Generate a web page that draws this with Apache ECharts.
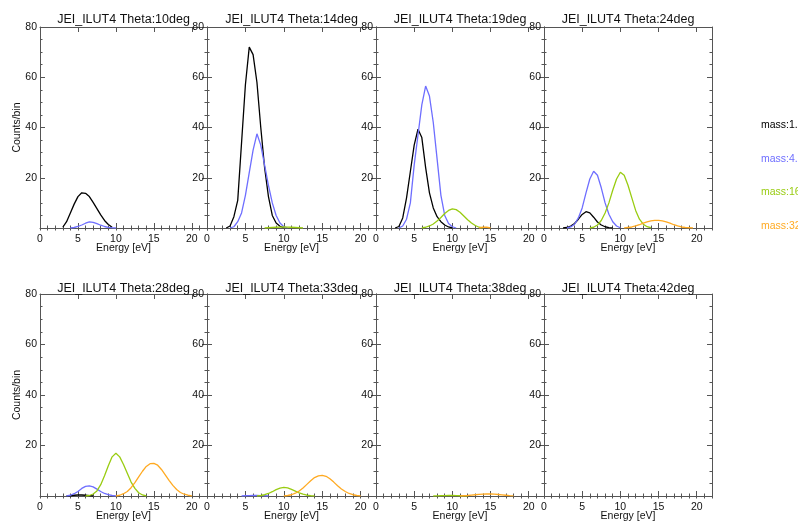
<!DOCTYPE html>
<html><head><meta charset="utf-8">
<script src="https://cdn.jsdelivr.net/npm/echarts@6/dist/echarts.min.js"></script>
<style>html,body{margin:0;padding:0;background:#fff}#c{width:798px;height:523px}</style>
</head><body><div id="c"></div><script>
// ---- labels ----
const thetaLabels = ['10', '14', '19', '24', '28', '33', '38', '42'];
const massNames = ['mass:1.0', 'mass:4.0', 'mass:16.0', 'mass:32.0'];
const xTickLabels = [0, 5, 10, 15, 20];
const yTickLabels = [20, 40, 60, 80];

// ---- data: [energy eV, counts/bin] ----
const m1_t10 = [[3,0.3],[3.5,2.5],[4,6],[4.5,9.5],[5,12.5],[5.5,14],[6,13.8],[6.5,12.5],[7,10.2],[7.5,7.7],[8,5.2],[8.5,3],[9,1.4],[9.5,0.3]];
const m4_t10 = [[4,0],[4.5,0.2],[5,0.6],[5.5,1.2],[6,1.9],[6.5,2.4],[7,2.2],[7.5,1.7],[8,1.1],[8.5,0.6],[9,0.25],[9.5,0.08],[10,0]];
const m16_t10 = [];
const m32_t10 = [];

const m1_t14 = [[2.5,0],[3,0.8],[3.5,4.5],[4,11],[4.5,34],[5,57],[5.5,72],[6,69],[6.5,58],[7,40],[7.5,24],[8,12.5],[8.5,5],[9,2],[9.5,0.7],[10,0.1]];
const m4_t14 = [[3,0],[3.5,0.5],[4,2.5],[4.5,6],[5,13],[5.5,22],[6,31],[6.5,37.5],[7,33],[7.5,25],[8,17],[8.5,10],[9,5],[9.5,2],[10,0.5],[10.5,0]];
const m16_t14 = [[7.5,0],[8,0.1],[8.5,0.2],[9,0.3],[9.5,0.35],[10,0.4],[10.5,0.35],[11,0.3],[11.5,0.2],[12,0.1],[12.5,0]];
const m32_t14 = [];

const m1_t19 = [[2.5,0],[3,0.6],[3.5,4],[4,12],[4.5,22.5],[5,33],[5.5,39.3],[6,36],[6.5,24],[7,14],[7.5,8],[8,4.5],[8.5,2.5],[9,1.2],[9.5,0.4],[10,0]];
const m4_t19 = [[3,0],[3.5,0.8],[4,3.5],[4.5,10],[5,25],[5.5,37],[6,49],[6.5,56.5],[7,52.5],[7.5,42],[8,27.5],[8.5,13],[9,5],[9.5,1.8],[10,0.5],[10.5,0]];
const m16_t19 = [[6,0],[6.5,0.3],[7,0.8],[7.5,1.6],[8,2.8],[8.5,4.2],[9,5.8],[9.5,7],[10,7.6],[10.5,7.3],[11,6.3],[11.5,4.8],[12,3.3],[12.5,2],[13,1],[13.5,0.3],[14,0]];
const m32_t19 = [[13.5,0],[14,0.3],[14.5,0.3],[15,0]];

const m1_t24 = [[2.5,0],[3,0.2],[3.5,0.8],[4,1.8],[4.5,3.5],[5,5.4],[5.5,6.5],[6,6],[6.5,4.3],[7,2.4],[7.5,1.2],[8,0.5],[8.5,0.15],[9,0]];
const m4_t24 = [[3,0],[3.5,0.4],[4,1.5],[4.5,4],[5,8],[5.5,14],[6,19.5],[6.5,22.6],[7,21],[7.5,16],[8,10],[8.5,5.5],[9,2.5],[9.5,0.8],[10,0.1]];
const m16_t24 = [[6,0],[6.5,0.3],[7,1.2],[7.5,3],[8,6],[8.5,10],[9,15],[9.5,19.5],[10,22.2],[10.5,21],[11,17],[11.5,12],[12,7],[12.5,3.5],[13,1.5],[13.5,0.5],[14,0.1]];
const m32_t24 = [[10.5,0],[11,0.2],[11.5,0.4],[12,0.8],[12.5,1.3],[13,1.9],[13.5,2.4],[14,2.8],[14.5,3],[15,3],[15.5,2.8],[16,2.4],[16.5,1.9],[17,1.3],[17.5,0.8],[18,0.4],[18.5,0.2],[19,0.1],[19.5,0]];

const m1_t28 = [[3.5,0],[4,0.1],[4.5,0.3],[5,0.4],[5.5,0.4],[6,0.3],[6.5,0.15],[7,0]];
const m4_t28 = [[3.5,0],[4,0.3],[4.5,0.9],[5,1.8],[5.5,3],[6,3.8],[6.5,4],[7,3.6],[7.5,2.7],[8,1.8],[8.5,1],[9,0.5],[9.5,0.2],[10,0]];
const m16_t28 = [[6,0],[6.5,0.2],[7,0.8],[7.5,2],[8,4.5],[8.5,8],[9,12],[9.5,15.5],[10,16.9],[10.5,15.5],[11,12.5],[11.5,9],[12,5.5],[12.5,3],[13,1.3],[13.5,0.4],[14,0]];
const m32_t28 = [[10,0],[10.5,0.3],[11,0.9],[11.5,1.8],[12,3.3],[12.5,5.3],[13,7.6],[13.5,9.8],[14,11.7],[14.5,12.8],[15,12.9],[15.5,12.2],[16,10.5],[16.5,8.4],[17,6.2],[17.5,4.2],[18,2.6],[18.5,1.4],[19,0.7],[19.5,0.3],[20,0]];

const m1_t33 = [];
const m4_t33 = [[4.5,0],[5,0.1],[5.5,0.15],[6,0.2],[6.5,0.2],[7,0.15],[7.5,0.1],[8,0]];
const m16_t33 = [[6.5,0],[7,0.2],[7.5,0.5],[8,1],[8.5,1.7],[9,2.5],[9.5,3.1],[10,3.4],[10.5,3.2],[11,2.6],[11.5,1.9],[12,1.2],[12.5,0.7],[13,0.3],[13.5,0.1],[14,0]];
const m32_t33 = [[10,0],[10.5,0.2],[11,0.5],[11.5,1.1],[12,2],[12.5,3.2],[13,4.6],[13.5,6],[14,7.3],[14.5,8],[15,8.2],[15.5,7.8],[16,6.8],[16.5,5.5],[17,4.1],[17.5,2.8],[18,1.8],[18.5,1],[19,0.5],[19.5,0.2],[20,0]];

const m1_t38 = [];
const m4_t38 = [];
const m16_t38 = [[7.5,0],[8,0.05],[8.5,0.1],[9,0.15],[9.5,0.2],[10,0.2],[10.5,0.15],[11,0.1],[11.5,0.05],[12,0]];
const m32_t38 = [[11,0],[11.5,0.1],[12,0.2],[12.5,0.35],[13,0.5],[13.5,0.65],[14,0.75],[14.5,0.8],[15,0.8],[15.5,0.75],[16,0.6],[16.5,0.45],[17,0.3],[17.5,0.15],[18,0.05]];

const m1_t42 = [];
const m4_t42 = [];
const m16_t42 = [];
const m32_t42 = [];

const panelData = [
  [m1_t10, m4_t10, m16_t10, m32_t10],
  [m1_t14, m4_t14, m16_t14, m32_t14],
  [m1_t19, m4_t19, m16_t19, m32_t19],
  [m1_t24, m4_t24, m16_t24, m32_t24],
  [m1_t28, m4_t28, m16_t28, m32_t28],
  [m1_t33, m4_t33, m16_t33, m32_t33],
  [m1_t38, m4_t38, m16_t38, m32_t38],
  [m1_t42, m4_t42, m16_t42, m32_t42]
];

// ---- layout / style ----
const massColors = ['#000000', '#6e6eff', '#99cc11', '#ffaa22'];
const FONT = '"Liberation Sans", Arial, Helvetica, sans-serif';
const colLeft = [40, 207, 376, 544];
const colWidth = [167, 169, 168, 168];
const rowTop = [27, 294];
const rowHeight = [201, 202];
const titleTop = [13, 282];
const axisColor = '#555';
const X_MIN = 0, X_MAX = 22, Y_MIN = 0, Y_MAX = 80;

const grids = [], xAxes = [], yAxes = [], series = [], titles = [];
for (let i = 0; i < 8; i++) {
  const r = Math.floor(i / 4), c = i % 4;
  grids.push({left: colLeft[c], top: rowTop[r], width: colWidth[c], height: rowHeight[r], outerBoundsMode: 'none', containLabel: false});
  titles.push({
    text: 'JEI_ILUT4 Theta:' + thetaLabels[i] + 'deg',
    left: colLeft[c] + colWidth[c] / 2, top: titleTop[r], textAlign: 'center', padding: 0,
    textStyle: {fontFamily: FONT, fontSize: 12.5, fontWeight: 'normal', color: '#111'}
  });
  const lineSt = {color: axisColor, width: 1};
  // bottom major
  xAxes.push({
    gridIndex: i, type: 'value', min: X_MIN, max: X_MAX, interval: 5, position: 'bottom',
    axisLine: {show: true, onZero: false, lineStyle: lineSt},
    axisTick: {show: true, inside: true, length: 5, lineStyle: lineSt},
    axisLabel: {show: true, margin: 5.5, fontFamily: FONT, fontSize: 10.5, color: '#111',
      formatter: v => (xTickLabels.indexOf(v) >= 0 ? String(v) : '')},
    splitLine: {show: false},
    name: 'Energy [eV]', nameLocation: 'middle', nameGap: 15, nameMoveOverlap: false,
    nameTextStyle: {fontFamily: FONT, fontSize: 10.5, color: '#111'}
  });
  // bottom minor
  xAxes.push({
    gridIndex: i, type: 'value', min: X_MIN, max: X_MAX, interval: 1, position: 'bottom',
    axisLine: {show: false}, axisTick: {show: true, inside: true, length: 2.5, lineStyle: lineSt},
    axisLabel: {show: false}, splitLine: {show: false}
  });
  // top major
  xAxes.push({
    gridIndex: i, type: 'value', min: X_MIN, max: X_MAX, interval: 5, position: 'top',
    axisLine: {show: true, onZero: false, lineStyle: lineSt},
    axisTick: {show: true, inside: true, length: 5, lineStyle: lineSt},
    axisLabel: {show: false}, splitLine: {show: false}
  });
  // top minor
  xAxes.push({
    gridIndex: i, type: 'value', min: X_MIN, max: X_MAX, interval: 1, position: 'top',
    axisLine: {show: false}, axisTick: {show: true, inside: true, length: 2.5, lineStyle: lineSt},
    axisLabel: {show: false}, splitLine: {show: false}
  });
  // left y
  yAxes.push({
    gridIndex: i, type: 'value', min: Y_MIN, max: Y_MAX, interval: 20, position: 'left',
    axisLine: {show: true, onZero: false, lineStyle: lineSt},
    axisTick: {show: true, inside: true, length: 5, lineStyle: lineSt},
    minorTick: {show: true, splitNumber: 4, length: 2.5, lineStyle: lineSt},
    axisLabel: {show: true, margin: 3, fontFamily: FONT, fontSize: 10.5, color: '#111',
      formatter: v => (yTickLabels.indexOf(v) >= 0 ? String(v) : '')},
    splitLine: {show: false},
    name: c === 0 ? 'Counts/bin' : '', nameLocation: 'middle', nameGap: 17, nameMoveOverlap: false,
    nameTextStyle: {fontFamily: FONT, fontSize: 10.5, color: '#111'}
  });
  // right y
  yAxes.push({
    gridIndex: i, type: 'value', min: Y_MIN, max: Y_MAX, interval: 20, position: 'right',
    axisLine: {show: true, onZero: false, lineStyle: lineSt},
    axisTick: {show: true, inside: true, length: 5, lineStyle: lineSt},
    minorTick: {show: true, splitNumber: 4, length: 2.5, lineStyle: lineSt},
    axisLabel: {show: false}, splitLine: {show: false}
  });
  panelData[i].forEach((d, k) => {
    if (!d.length) return;
    series.push({
      type: 'line', name: massNames[k], xAxisIndex: 4 * i, yAxisIndex: 2 * i,
      data: d, symbol: 'none', showSymbol: false, smooth: false, z: 5,
      lineStyle: {color: massColors[k], width: 1.3}, itemStyle: {color: massColors[k]},
      emphasis: {disabled: true}
    });
  });
}

const chart = echarts.init(document.getElementById('c'), null, {renderer: 'canvas'});
chart.setOption({
  animation: false,
  backgroundColor: '#ffffff',
  title: titles,
  grid: grids,
  xAxis: xAxes,
  yAxis: yAxes,
  legend: {
    orient: 'vertical', left: 751, top: 114, itemWidth: 0, itemHeight: 12, itemGap: 21.7,
    selectedMode: false, icon: 'rect',
    itemStyle: {opacity: 0}, lineStyle: {opacity: 0},
    textStyle: {fontFamily: FONT, fontSize: 10.5},
    data: massNames.map((n, k) => ({name: n, textStyle: {color: massColors[k]}}))
  },
  series: series
});
</script></body></html>
